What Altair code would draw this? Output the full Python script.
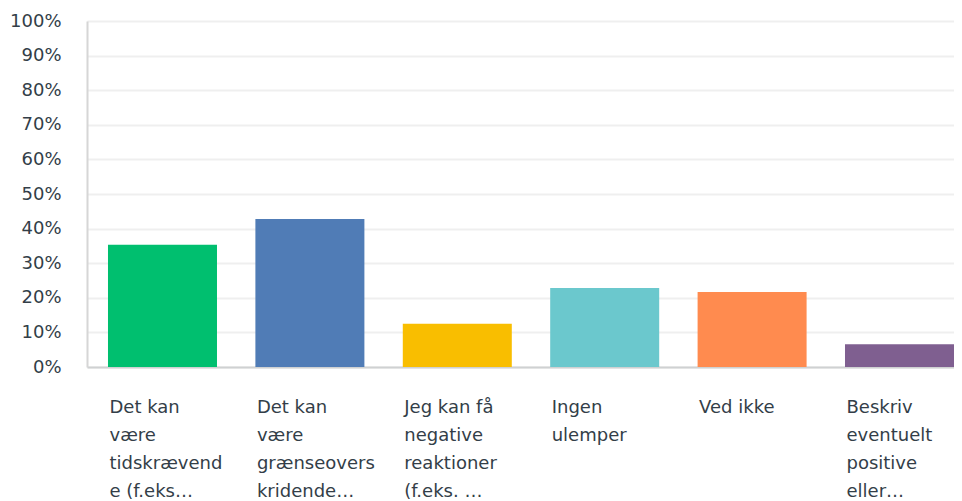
import altair as alt
import pandas as pd

categories = [
    "Det kan|være|tidskrævend|e (f.eks…",
    "Det kan|være|grænseovers|kridende…",
    "Jeg kan få|negative|reaktioner|(f.eks. …",
    "Ingen|ulemper",
    "Ved ikke",
    "Beskriv|eventuelt|positive|eller…",
]
values = [0.353, 0.428, 0.125, 0.228, 0.217, 0.066]
colors = ["#00bf6f", "#507cb6", "#f9be00", "#6bc8cd", "#ff8b4f", "#7f5f90"]

df = pd.DataFrame({"cat": categories, "val": values, "color": colors})

chart = alt.Chart(df).mark_bar().encode(
    x=alt.X("cat:N", sort=categories,
            scale=alt.Scale(paddingInner=0.2605, paddingOuter=0.0712, align=1.0, round=False),
            axis=alt.Axis(title=None, labelAngle=0, labelAlign="left", labelBaseline="top",
                          labelExpr="split(datum.label, '|')", labelOffset=-53,
                          labelPadding=31, labelLineHeight=28, labelFontSize=18,
                          labelColor="#333e48", labelFont="DejaVu Sans",
                          ticks=False, domainColor="#cfd1d2", domainWidth=2,
                          grid=False, labelLimit=200)),
    y=alt.Y("val:Q", scale=alt.Scale(domain=[0, 1], nice=False),
            axis=alt.Axis(title=None, format=".0%", values=[i / 10 for i in range(11)],
                          labelFontSize=18, labelColor="#333e48", labelFont="DejaVu Sans",
                          ticks=False, labelPadding=26, domainColor="#d6d6d6",
                          domainWidth=2, gridColor="#efefef", gridWidth=2)),
    color=alt.Color("color:N", scale=None, legend=None),
).properties(
    width=867, height=346,
    autosize=alt.AutoSizeParams(type="none"),
    padding={"left": 79, "top": 13, "right": 0, "bottom": 140},
).configure_view(stroke=None)

chart.save("out.html", embed_options={"renderer": "svg", "actions": False})
